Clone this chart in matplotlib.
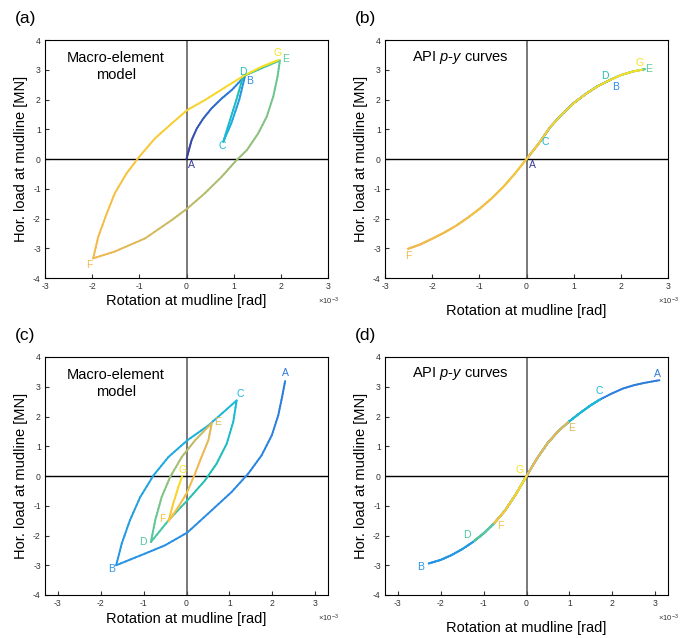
import numpy as np
import matplotlib
matplotlib.use('Agg')
import matplotlib.pyplot as plt
from matplotlib.collections import LineCollection
from matplotlib.colors import LinearSegmentedColormap

plt.rcParams['font.family'] = ['Liberation Sans', 'DejaVu Sans']
plt.rcParams['mathtext.fontset'] = 'custom'
plt.rcParams['mathtext.rm'] = 'Liberation Sans'
plt.rcParams['mathtext.it'] = 'Liberation Sans:italic'
plt.rcParams['axes.unicode_minus'] = False

# parula-like colours
cmap = LinearSegmentedColormap.from_list('parulaish', [
    (0.0, '#3b3b9c'), (0.17, '#2a8ae6'), (0.3, '#1ab8dc'), (0.42, '#20c0b0'),
    (0.55, '#5cc898'), (0.68, '#a8bc70'), (0.8, '#f0b850'), (0.9, '#f8c838'),
    (1.0, '#f8e020')])

letters = ['A', 'B', 'C', 'D', 'E', 'F', 'G']

# ---------------- (a) macro-element, test 1 ----------------
a_AB_x = [0.0, 0.05, 0.11, 0.22, 0.36, 0.53, 0.75, 0.96, 1.24]
a_AB_y = [0.0, 0.30, 0.64, 1.03, 1.37, 1.70, 2.04, 2.32, 2.79]
a_BC_x = [1.24, 1.12, 0.95, 0.78]
a_BC_y = [2.79, 2.0, 1.2, 0.58]
a_CD_x = [0.78, 0.92, 1.06, 1.2]
a_CD_y = [0.58, 1.3, 2.0, 2.78]
a_DE_x = [1.2, 1.59, 1.98]
a_DE_y = [2.78, 3.05, 3.31]
a_EF_x = [1.98, 1.93, 1.84, 1.70, 1.52, 1.28, 1.03, 0.75, 0.39, 0.02, -0.31,
          -0.88, -1.52, -1.98]
a_EF_y = [3.31, 2.77, 2.10, 1.42, 0.86, 0.30, -0.09, -0.59, -1.15, -1.66, -2.05,
          -2.67, -3.11, -3.34]
a_FG_x = [-1.98, -1.87, -1.69, -1.52, -1.27, -1.0, -0.67, -0.31, 0.02, 0.39, 0.89,
          1.24, 1.59, 1.95]
a_FG_y = [-3.34, -2.61, -1.83, -1.15, -0.48, 0.08, 0.69, 1.20, 1.65, 1.98, 2.48,
          2.82, 3.10, 3.33]
a_lab_x = [0.106, 1.34, 0.755, 1.2, 2.10, -2.05, 1.94]
a_lab_y = [-0.19, 2.61, 0.43, 2.94, 3.36, -3.55, 3.56]
a_par = [0.0, 0.17, 0.3, 0.42, 0.55, 0.8, 1.0]

# ---------------- (b) API p-y, test 1 ----------------
b_curve_x = [-2.51, -2.25, -2.0, -1.75, -1.5, -1.25, -1.0, -0.75, -0.5, -0.25, 0.0,
             0.25, 0.5, 0.75, 1.0, 1.25, 1.5, 1.75, 2.0, 2.25, 2.51]
b_curve_y = [-3.02, -2.87, -2.68, -2.48, -2.25, -1.98, -1.68, -1.34, -0.95, -0.50, 0.0,
             0.50, 1.07, 1.50, 1.88, 2.18, 2.44, 2.64, 2.82, 2.94, 3.02]
b_pt_x = [0.0, 1.8, 0.3, 1.8, 2.51, -2.51, 2.45]
b_pt_y = [0.0, 2.68, 0.60, 2.68, 3.02, -3.02, 3.0]
b_lab_x = [0.13, 1.89, 0.39, 1.67, 2.58, -2.51, 2.39]
b_lab_y = [-0.19, 2.42, 0.56, 2.80, 3.02, -3.27, 3.24]

# ---------------- (c) macro-element, test 2 ----------------
c_AB_x = [2.30, 2.23, 2.14, 1.99, 1.75, 1.44, 1.05, 0.59, 0.02, -0.50, -0.97, -1.64]
c_AB_y = [3.19, 2.66, 2.04, 1.37, 0.69, 0.08, -0.54, -1.15, -1.90, -2.33, -2.61, -3.0]
c_BC_x = [-1.64, -1.51, -1.32, -1.08, -0.77, -0.42, 0.02, 0.51, 1.17]
c_BC_y = [-3.0, -2.27, -1.49, -0.71, 0.02, 0.64, 1.20, 1.70, 2.54]
c_CD_x = [1.17, 1.09, 0.94, 0.70, 0.43, 0.02, -0.42, -0.83]
c_CD_y = [2.54, 1.82, 1.09, 0.41, -0.15, -0.82, -1.49, -2.22]
c_DE_x = [-0.83, -0.73, -0.58, -0.38, -0.11, 0.20, 0.59]
c_DE_y = [-2.22, -1.49, -0.71, -0.03, 0.64, 1.20, 1.78]
c_EF_x = [0.59, 0.51, 0.35, 0.20, 0.0, -0.19, -0.42]
c_EF_y = [1.78, 1.20, 0.64, 0.08, -0.59, -1.04, -1.52]
c_FG_x = [-0.42, -0.31, -0.19, -0.10]
c_FG_y = [-1.52, -0.93, -0.37, 0.0]
c_lab_x = [2.31, -1.75, 1.26, -1.01, 0.72, -0.56, -0.09]
c_lab_y = [3.47, -3.14, 2.74, -2.21, 1.82, -1.43, 0.19]
c_par = [0.14, 0.2, 0.3, 0.52, 0.76, 0.86, 1.0]

# ---------------- (d) API p-y, test 2 ----------------
d_curve_x = [-2.28, -2.0, -1.75, -1.5, -1.25, -1.0, -0.75, -0.5, -0.25, 0.0, 0.25,
             0.5, 0.75, 1.0, 1.25, 1.5, 1.75, 2.0, 2.25, 2.5, 2.75, 3.1]
d_curve_y = [-2.94, -2.82, -2.66, -2.46, -2.22, -1.93, -1.58, -1.16, -0.62, 0.0, 0.6,
             1.12, 1.52, 1.84, 2.12, 2.38, 2.60, 2.78, 2.94, 3.05, 3.13, 3.22]
d_pt_x = [3.10, -2.28, 1.71, -1.22, 0.97, -0.75, 0.0]
d_pt_y = [3.22, -2.94, 2.57, -2.18, 1.81, -1.58, 0.0]
d_lab_x = [3.05, -2.47, 1.70, -1.38, 1.05, -0.62, -0.16]
d_lab_y = [3.44, -3.06, 2.86, -1.99, 1.62, -1.68, 0.19]


def grad_line(ax, xs, ys, p0, p1, n=6):
    xs = np.asarray(xs, float)
    ys = np.asarray(ys, float)
    # split each straight piece so the colour can change along the path
    fx, fy = [xs[0]], [ys[0]]
    for i in range(len(xs) - 1):
        for k in range(1, n + 1):
            fx.append(xs[i] + (xs[i + 1] - xs[i]) * k / n)
            fy.append(ys[i] + (ys[i + 1] - ys[i]) * k / n)
    fx, fy = np.array(fx), np.array(fy)
    d = np.r_[0, np.cumsum(np.hypot(np.diff(fx), np.diff(fy)))]
    t = d / d[-1]
    pts = np.column_stack([fx, fy]).reshape(-1, 1, 2)
    segs = np.concatenate([pts[:-1], pts[1:]], axis=1)
    tm = 0.5 * (t[:-1] + t[1:])
    cols = cmap(p0 + (p1 - p0) * tm)
    lc = LineCollection(segs, colors=cols, linewidths=1.4, capstyle='round',
                        joinstyle='round', zorder=3)
    ax.add_collection(lc)


def on_curve(cx, cy, x0, y0, x1, y1):
    cx = np.asarray(cx)
    cy = np.asarray(cy)
    lo, hi = min(x0, x1), max(x0, x1)
    m = (cx > lo) & (cx < hi)
    px, py = cx[m], cy[m]
    if x1 < x0:
        px, py = px[::-1], py[::-1]
    return [x0] + list(px) + [x1], [y0] + list(py) + [y1]


def setup(ax, xl, tag, lpad):
    ax.set_xlim(-xl, xl)
    ax.set_ylim(-4, 4)
    ax.set_xticks(range(-3, 4))
    ax.set_yticks(range(-4, 5))
    ax.tick_params(direction='in', length=3, labelsize=6.2, colors='#333333',
                   labelcolor='#333333', pad=3)
    for s in ax.spines.values():
        s.set_linewidth(0.8)
    ax.axvline(0, color='#555555', lw=1.1, zorder=2)
    ax.axhline(0, color='black', lw=1.0, zorder=2)
    ax.set_xlabel('Rotation at mudline [rad]', fontsize=10.5, labelpad=lpad)
    ax.set_ylabel('Hor. load at mudline [MN]', fontsize=10.5, labelpad=4)
    ax.text(1.0, -0.1, r'$\times$10$^{-3}$', transform=ax.transAxes,
            fontsize=5.5, ha='center', va='center', color='#333333')
    ax.text(-0.07, 1.09, tag, transform=ax.transAxes, fontsize=12.5,
            ha='center', va='center')


def put_letters(ax, lx, ly, par):
    for L, x, y, p in zip(letters, lx, ly, par):
        ax.text(x, y, L, color=cmap(p), fontsize=7.5, ha='center', va='center',
                zorder=4)


fig = plt.figure(figsize=(6.8, 6.38), dpi=100)
w, h = 283 / 680, 238 / 638
axa = fig.add_axes([45 / 680, 360 / 638, w, h])
axb = fig.add_axes([385 / 680, 360 / 638, w, h])
axc = fig.add_axes([45 / 680, 43 / 638, w, h])
axd = fig.add_axes([385 / 680, 43 / 638, w, h])

# (a)
setup(axa, 3, '(a)', 2)
a_segs = [(a_AB_x, a_AB_y), (a_BC_x, a_BC_y), (a_CD_x, a_CD_y),
          (a_DE_x, a_DE_y), (a_EF_x, a_EF_y), (a_FG_x, a_FG_y)]
for i, (sx, sy) in enumerate(a_segs):
    grad_line(axa, sx, sy, a_par[i], a_par[i + 1])
put_letters(axa, a_lab_x, a_lab_y, a_par)
axa.text(-1.5, 3.1, 'Macro-element\nmodel', fontsize=10.5, ha='center',
         va='center', linespacing=1.3)

# (b)
setup(axb, 3, '(b)', 9)
for i in range(6):
    sx, sy = on_curve(b_curve_x, b_curve_y, b_pt_x[i], b_pt_y[i],
                      b_pt_x[i + 1], b_pt_y[i + 1])
    grad_line(axb, sx, sy, a_par[i], a_par[i + 1])
put_letters(axb, b_lab_x, b_lab_y, a_par)
axb.text(-1.41, 3.42, 'API $p$-$y$ curves', fontsize=10.5, ha='center',
         va='center')

# (c)
setup(axc, 3.3, '(c)', 3)
c_segs = [(c_AB_x, c_AB_y), (c_BC_x, c_BC_y), (c_CD_x, c_CD_y),
          (c_DE_x, c_DE_y), (c_EF_x, c_EF_y), (c_FG_x, c_FG_y)]
for i, (sx, sy) in enumerate(c_segs):
    grad_line(axc, sx, sy, c_par[i], c_par[i + 1])
put_letters(axc, c_lab_x, c_lab_y, c_par)
axc.text(-1.65, 3.1, 'Macro-element\nmodel', fontsize=10.5, ha='center',
         va='center', linespacing=1.3)

# (d)
setup(axd, 3.3, '(d)', 9)
for i in range(6):
    sx, sy = on_curve(d_curve_x, d_curve_y, d_pt_x[i], d_pt_y[i],
                      d_pt_x[i + 1], d_pt_y[i + 1])
    grad_line(axd, sx, sy, c_par[i], c_par[i + 1])
put_letters(axd, d_lab_x, d_lab_y, c_par)
axd.text(-1.55, 3.45, 'API $p$-$y$ curves', fontsize=10.5, ha='center',
         va='center')

fig.savefig('out.png', dpi=100)
